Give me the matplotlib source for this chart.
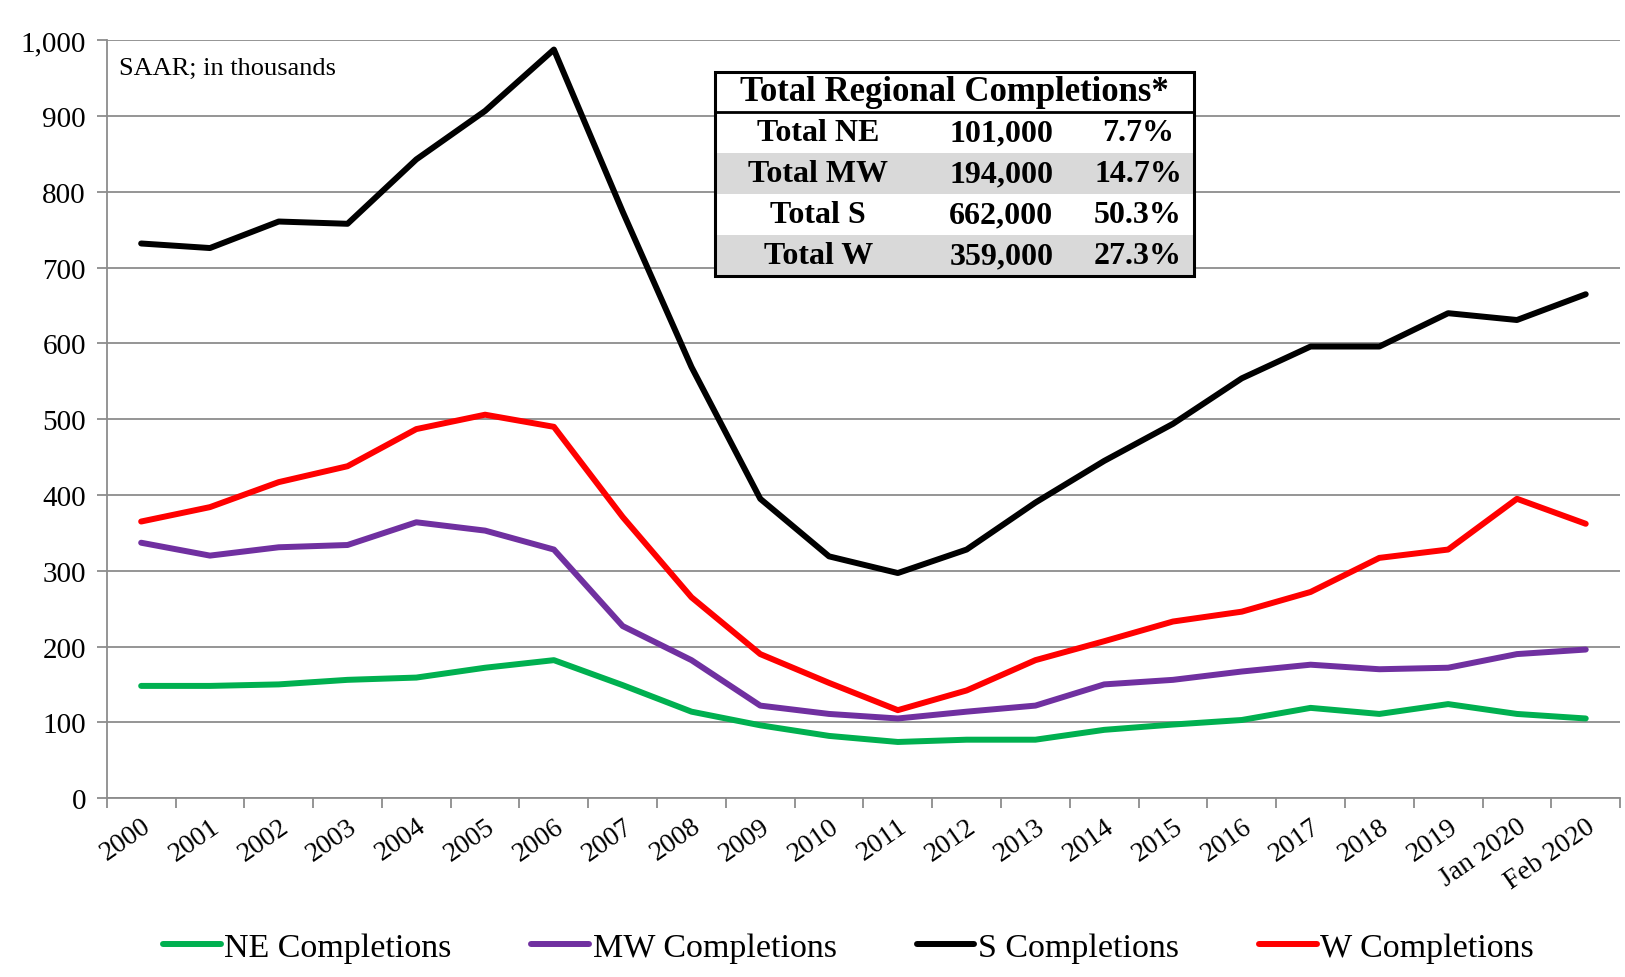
import matplotlib.pyplot as plt
import numpy as np
from matplotlib.patches import Rectangle
from matplotlib.ticker import FuncFormatter, FixedLocator

plt.rcParams['font.family'] = ['Liberation Serif', 'DejaVu Serif']

#------------------------------------------------------------------------------
# Data (SAAR, thousands)
categories = ['2000', '2001', '2002', '2003', '2004', '2005', '2006', '2007',
              '2008', '2009', '2010', '2011', '2012', '2013', '2014', '2015',
              '2016', '2017', '2018', '2019', 'Jan 2020', 'Feb 2020']

ne = [148, 148, 150, 156, 159, 172, 182, 149, 114, 96, 82, 74, 77, 77,
      90, 97, 103, 119, 111, 124, 111, 105]
mw = [337, 320, 331, 334, 364, 353, 328, 227, 182, 122, 111, 105, 114, 122,
      150, 156, 167, 176, 170, 172, 190, 196]
s = [732, 726, 761, 758, 843, 907, 988, 774, 569, 395, 319, 297, 328, 390,
     445, 494, 554, 596, 596, 640, 631, 665]
w = [365, 384, 417, 438, 487, 506, 490, 371, 265, 190, 152, 116, 142, 182,
     207, 233, 246, 272, 317, 328, 395, 362]

series_names = ['NE Completions', 'MW Completions', 'S Completions', 'W Completions']
series_colors = ['#00B050', '#7030A0', '#000000', '#FF0000']

table_title = 'Total Regional Completions*'
table_regions = ['Total NE', 'Total MW', 'Total S', 'Total W']
table_totals = ['101,000', '194,000', '662,000', '359,000']
table_shares = ['7.7%', '14.7%', '50.3%', '27.3%']

#------------------------------------------------------------------------------
# Plot
fig = plt.figure(figsize=(16.25, 9.78), dpi=100)
ax = fig.add_axes([0.0657, 0.183, 0.9313, 0.7746])

x = np.arange(len(categories))
for vals, name, col in zip([ne, mw, s, w], series_names, series_colors):
    ax.plot(x, vals, color=col, lw=4.3, label=name,
            solid_capstyle='round', solid_joinstyle='round', zorder=3)

ax.set_xlim(-0.5, len(categories) - 0.5)
ax.set_ylim(0, 1000)
ax.set_yticks(np.arange(0, 1001, 100))
ax.yaxis.set_major_formatter(FuncFormatter(lambda v, p: f'{int(v):,}'))
ax.grid(axis='y', color='#8c8c8c', lw=1.3, zorder=1)

# category labels at the points, tick marks between categories
ax.set_xticks(x)
ax.set_xticklabels(categories, rotation=35, ha='right', va='top',
                   rotation_mode='anchor', fontsize=20)
ax.tick_params(axis='x', length=0, pad=11)
ax.xaxis.set_minor_locator(FixedLocator(np.arange(-0.5, len(categories), 1)))
ax.tick_params(axis='x', which='minor', length=7, width=1.3, color='#8c8c8c')
ax.tick_params(axis='y', labelsize=21, length=7, width=1.3, color='#8c8c8c', pad=8)

for side in ['top', 'right']:
    ax.spines[side].set_visible(False)
for side in ['left', 'bottom']:
    ax.spines[side].set_color('#8c8c8c')
    ax.spines[side].set_linewidth(1.3)

ax.text(0.008, 0.978, 'SAAR; in thousands', transform=ax.transAxes,
        fontsize=19, va='top', ha='left')

# summary table
tx0, tx1 = 0.402, 0.7186
ty0, ty1 = 0.689, 0.959
col_edges = [tx0, tx0 + 0.43 * (tx1 - tx0), tx0 + 0.765 * (tx1 - tx0), tx1]
n_rows = len(table_regions) + 1
rh = (ty1 - ty0) / n_rows
ax.add_patch(Rectangle((tx0, ty0), tx1 - tx0, ty1 - ty0, transform=ax.transAxes,
                       facecolor='white', edgecolor='none', zorder=4))
for i in range(len(table_regions)):
    ytop = ty1 - rh * (i + 1)
    if i % 2 == 1:
        ax.add_patch(Rectangle((tx0, ytop - rh), tx1 - tx0, rh, transform=ax.transAxes,
                               facecolor='#d9d9d9', edgecolor='none', zorder=5))
    yc = ytop - rh / 2
    for j, txt in enumerate([table_regions[i], table_totals[i], table_shares[i]]):
        xc = (col_edges[j] + col_edges[j + 1]) / 2
        ax.text(xc, yc, txt, transform=ax.transAxes, ha='center', va='center',
                fontsize=23, fontweight='bold', zorder=7)
ax.text((tx0 + tx1) / 2, ty1 - rh / 2, table_title, transform=ax.transAxes,
        ha='center', va='center', fontsize=25, fontweight='bold', zorder=7)
ax.plot([tx0, tx1], [ty1 - rh, ty1 - rh], transform=ax.transAxes,
        color='black', lw=2, zorder=6)
ax.add_patch(Rectangle((tx0, ty0), tx1 - tx0, ty1 - ty0, transform=ax.transAxes,
                       facecolor='none', edgecolor='black', lw=2.2, zorder=8))

fig.legend(loc='center', bbox_to_anchor=(0.522, 0.03), ncol=4, frameon=False,
           fontsize=24.5, handlelength=1.7, handletextpad=0.1, columnspacing=2.35)

plt.savefig('out.png', dpi=100)
